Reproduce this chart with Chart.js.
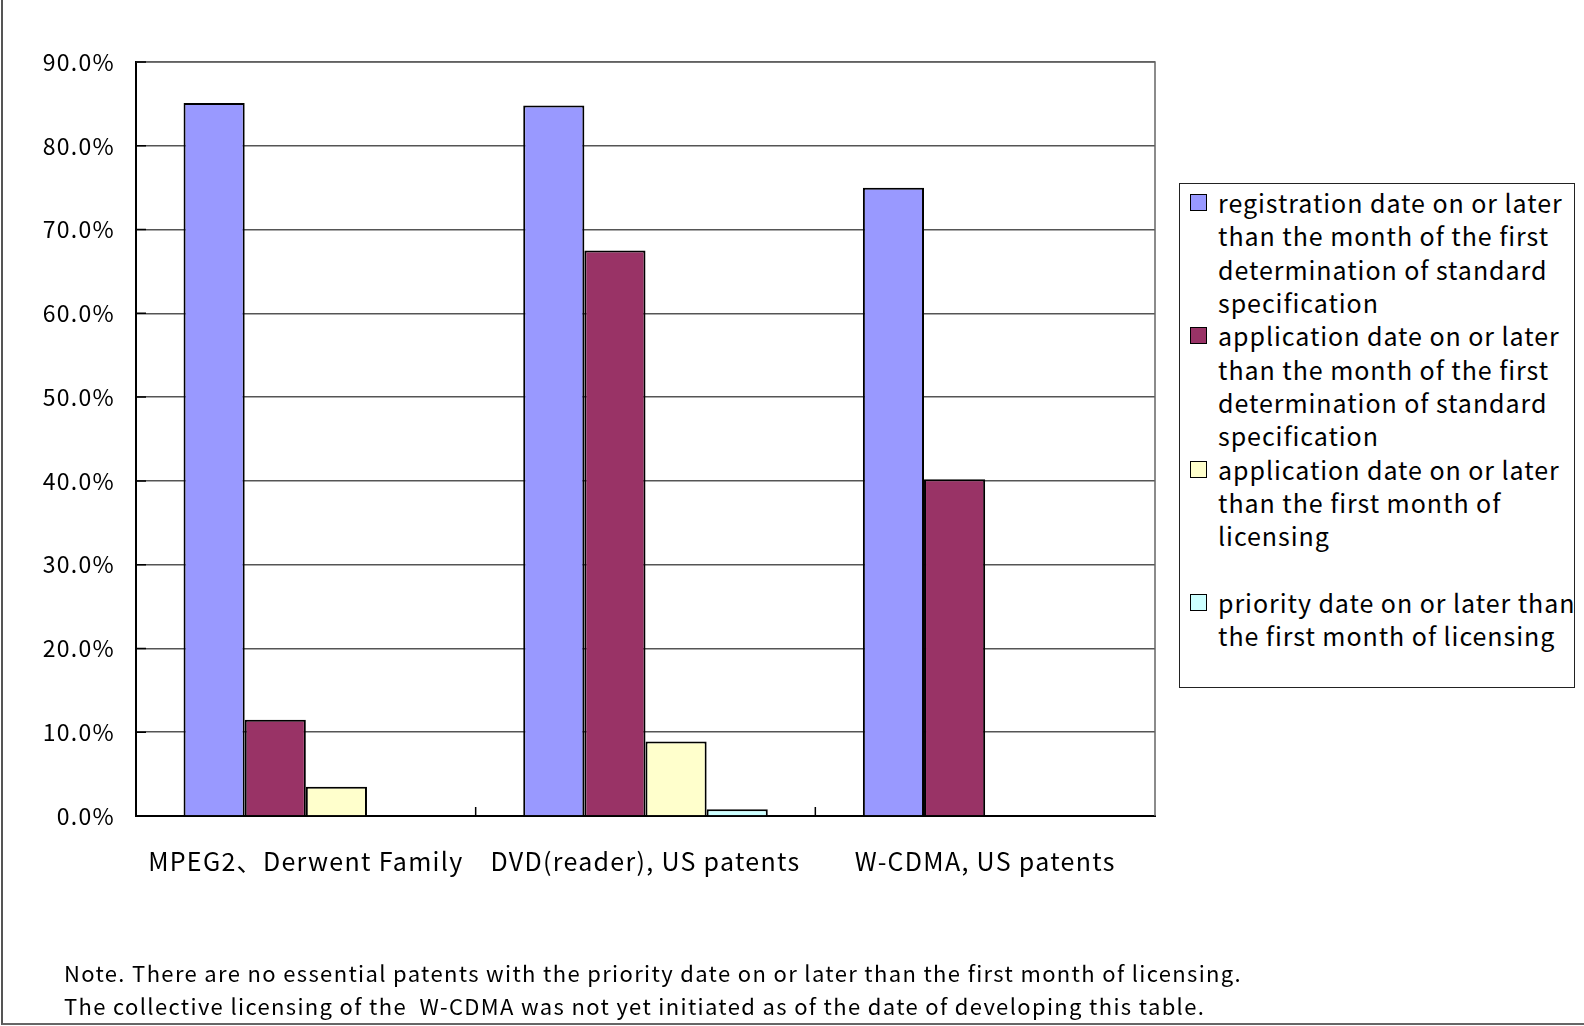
<!DOCTYPE html>
<html>
<head>
<meta charset="utf-8">
<script src="https://cdn.jsdelivr.net/npm/chart.js@4.4.1/dist/chart.umd.min.js"></script>
<style>
  html, body { margin: 0; padding: 0; background: #fff; }
  body { width: 1584px; height: 1026px; position: relative; overflow: hidden;
         font-family: "Noto Sans CJK JP", "Liberation Sans", sans-serif; color: #000; }
  #frame { position: absolute; left: 1px; top: -10px; width: 1600px; height: 1033px;
           border-left: 2px solid #555; border-bottom: 2px solid #666; }
  #chart { position: absolute; left: 0; top: 0; }
  #legend { position: absolute; left: 1179px; top: 183px; width: 394px; height: 503px;
            border: 1.5px solid #222; background: #fff; overflow: hidden; }
  .item { position: relative; height: 133.3px; padding-left: 38px; box-sizing: border-box;
          font-size: 25px; line-height: 33.3px; white-space: pre; letter-spacing: 0.95px; }
  .item:first-child { margin-top: 2px; }
  .swatch { position: absolute; left: 10px; top: 8px; width: 15px; height: 15px;
            border: 1.5px solid #000; }
  #note { position: absolute; left: 64px; top: 956px; font-size: 22px; line-height: 33px;
          white-space: pre; letter-spacing: 1.35px; }
</style>
</head>
<body>
<div id="frame"></div>
<canvas id="chart" width="1584" height="1026"></canvas>
<div id="legend"></div>
<div id="note">Note. There are no essential patents with the priority date on or later than the first month of licensing.
The collective licensing of the  W-CDMA was not yet initiated as of the date of developing this table.</div>
<script>
// Groups along the x axis
const categories = ["MPEG2、Derwent Family", "DVD(reader), US patents", "W-CDMA, US patents"];

// Series names (line breaks as laid out in the legend box)
const seriesLabels = [
  "registration date on or later\nthan the month of the first\ndetermination of standard\nspecification",
  "application date on or later\nthan the month of the first\ndetermination of standard\nspecification",
  "application date on or later\nthan the first month of\nlicensing",
  "priority date on or later than\nthe first month of licensing"
];

// Shares in percent, one value per group
const registrationAfterStandard = [85.1, 84.8, 75.0];
const applicationAfterStandard  = [11.5, 67.5, 40.2];
const applicationAfterLicensing = [3.5, 8.9, null];
const priorityAfterLicensing    = [null, 0.8, null];

// Value axis
const yMin = 0, yMax = 90, yStep = 10;

const seriesColors = ["#9999FF", "#993366", "#FFFFCC", "#CCFFFF"];
const seriesValues = [registrationAfterStandard, applicationAfterStandard,
                      applicationAfterLicensing, priorityAfterLicensing];

const FONT = "'Noto Sans CJK JP', 'Liberation Sans', sans-serif";

// Slightly wider text spacing for the axis labels
const textSpacing = {
  id: 'textSpacing',
  beforeDraw(chart) { chart.ctx.letterSpacing = '1.3px'; }
};

// Frame on top/right of the plot plus short inward tick marks
const plotFrame = {
  id: 'plotFrame',
  afterDraw(chart) {
    const { ctx, chartArea: a, scales: { x, y } } = chart;
    ctx.save();
    ctx.strokeStyle = '#666';
    ctx.lineWidth = 1.5;
    ctx.beginPath();
    ctx.moveTo(a.left, a.top);
    ctx.lineTo(a.right, a.top);
    ctx.lineTo(a.right, a.bottom);
    ctx.stroke();
    ctx.strokeStyle = '#000';
    ctx.lineWidth = 1.5;
    ctx.beginPath();
    for (let i = 0; i < x.ticks.length - 1; i++) {
      const px = (x.getPixelForValue(i) + x.getPixelForValue(i + 1)) / 2;
      ctx.moveTo(px, a.bottom);
      ctx.lineTo(px, a.bottom - 9);
    }
    y.ticks.forEach(t => {
      const py = y.getPixelForValue(t.value);
      ctx.moveTo(a.left, py);
      ctx.lineTo(a.left + 10, py);
    });
    ctx.stroke();
    ctx.restore();
  }
};

const chart = new Chart(document.getElementById('chart'), {
  type: 'bar',
  data: {
    labels: categories,
    datasets: seriesLabels.map((label, i) => ({
      label,
      data: seriesValues[i],
      backgroundColor: seriesColors[i],
      borderColor: '#000',
      borderWidth: 2,
      categoryPercentage: 0.72,
      barPercentage: 1.0
    }))
  },
  options: {
    responsive: false,
    animation: false,
    layout: { padding: { left: 0, top: 62, right: 429, bottom: 0 } },
    plugins: {
      legend: { display: false },
      tooltip: { enabled: false }
    },
    scales: {
      x: {
        grid: { display: false, drawTicks: false },
        border: { display: true, color: '#000', width: 2 },
        ticks: { color: '#000', font: { family: FONT, size: 25 }, padding: 30, maxRotation: 0 },
        afterFit(scale) { scale.height = 210; }
      },
      y: {
        min: yMin, max: yMax,
        grid: { color: '#555', lineWidth: 1.5, drawTicks: false },
        border: { display: true, color: '#000', width: 2 },
        ticks: {
          stepSize: yStep, color: '#000', padding: 21,
          font: { family: FONT, size: 23 },
          callback: v => v.toFixed(1) + '%'
        },
        afterFit(scale) { scale.width = 136; }
      }
    }
  },
  plugins: [textSpacing, plotFrame]
});

// Legend box built from the chart's datasets
const legend = document.getElementById('legend');
chart.data.datasets.forEach(ds => {
  const item = document.createElement('div');
  item.className = 'item';
  const sw = document.createElement('span');
  sw.className = 'swatch';
  sw.style.background = ds.backgroundColor;
  item.appendChild(sw);
  item.appendChild(document.createTextNode(ds.label));
  legend.appendChild(item);
});
</script>
</body>
</html>
